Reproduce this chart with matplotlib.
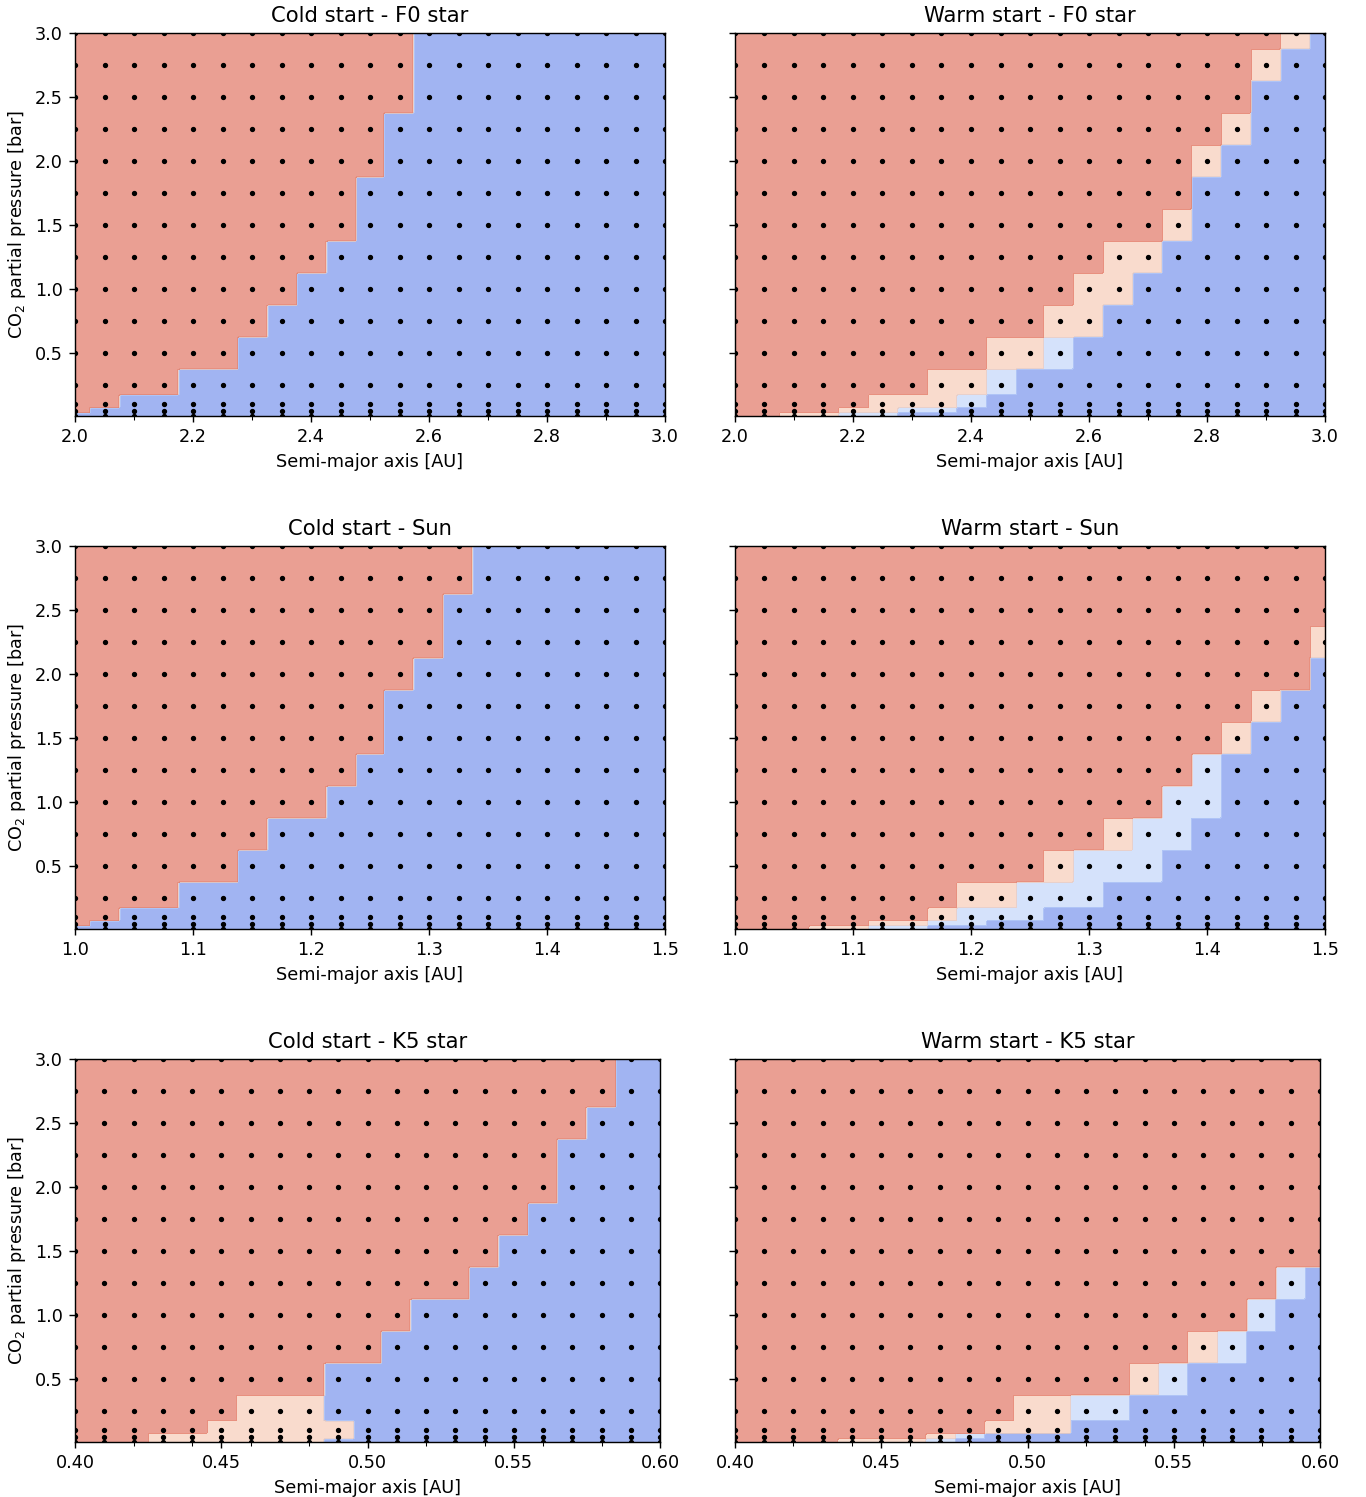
import numpy as np
import matplotlib
matplotlib.use('Agg')
import matplotlib.pyplot as plt
from matplotlib.ticker import MultipleLocator, FormatStrFormatter

# CO2 partial pressure grid [bar], top row first
pco2 = [3.0, 2.75, 2.5, 2.25, 2.0, 1.75, 1.5, 1.25, 1.0, 0.75, 0.5, 0.25, 0.1, 0.05, 0.01]

# semi-major axis grids [AU]
a_f0 = [2.0, 2.05, 2.1, 2.15, 2.2, 2.25, 2.3, 2.35, 2.4, 2.45, 2.5,
        2.55, 2.6, 2.65, 2.7, 2.75, 2.8, 2.85, 2.9, 2.95, 3.0]
a_sun = [1.0, 1.025, 1.05, 1.075, 1.1, 1.125, 1.15, 1.175, 1.2, 1.225, 1.25,
         1.275, 1.3, 1.325, 1.35, 1.375, 1.4, 1.425, 1.45, 1.475, 1.5]
a_k5 = [0.40, 0.41, 0.42, 0.43, 0.44, 0.45, 0.46, 0.47, 0.48, 0.49, 0.50,
        0.51, 0.52, 0.53, 0.54, 0.55, 0.56, 0.57, 0.58, 0.59, 0.60]

# final climate state per run (one string per pco2 row, one digit per a)
# 0 = snowball, 1 = partly glaciated, 2 = temperate, 3 = warm
cold_f0 = ["333333333333000000000",
           "333333333333000000000",
           "333333333333000000000",
           "333333333330000000000",
           "333333333330000000000",
           "333333333300000000000",
           "333333333300000000000",
           "333333333000000000000",
           "333333330000000000000",
           "333333300000000000000",
           "333333000000000000000",
           "333300000000000000000",
           "330000000000000000000",
           "300000000000000000000",
           "000000000000000000000"]
warm_f0 = ["333333333333333333320",
           "333333333333333333200",
           "333333333333333333000",
           "333333333333333332000",
           "333333333333333320000",
           "333333333333333300000",
           "333333333333333200000",
           "333333333333322000000",
           "333333333333220000000",
           "333333333332200000000",
           "333333333221000000000",
           "333333322100000000000",
           "333332221000000000000",
           "333322110000000000000",
           "332211000000000000000"]
cold_sun = ["333333333333330000000",
            "333333333333330000000",
            "333333333333300000000",
            "333333333333300000000",
            "333333333333000000000",
            "333333333330000000000",
            "333333333330000000000",
            "333333333300000000000",
            "333333333000000000000",
            "333333300000000000000",
            "333333000000000000000",
            "333300000000000000000",
            "330000000000000000000",
            "300000000000000000000",
            "000000000000000000000"]
warm_sun = ["333333333333333333333",
            "333333333333333333333",
            "333333333333333333333",
            "333333333333333333332",
            "333333333333333333330",
            "333333333333333333200",
            "333333333333333332000",
            "333333333333333310000",
            "333333333333333110000",
            "333333333333321100000",
            "333333333332111000000",
            "333333332211100000000",
            "333333321110000000000",
            "333332211000000000000",
            "333221100000000000000"]
cold_k5 = ["333333333333333333300",
           "333333333333333333300",
           "333333333333333333000",
           "333333333333333330000",
           "333333333333333330000",
           "333333333333333300000",
           "333333333333333000000",
           "333333333333330000000",
           "333333333333000000000",
           "333333333330000000000",
           "333333333000000000000",
           "333333222000000000000",
           "333332222200000000000",
           "333222222200000000000",
           "333222222000000000000"]
warm_k5 = ["333333333333333333333",
           "333333333333333333333",
           "333333333333333333333",
           "333333333333333333333",
           "333333333333333333333",
           "333333333333333333333",
           "333333333333333333333",
           "333333333333333333310",
           "333333333333333333100",
           "333333333333333321000",
           "333333333333332100000",
           "333333333322110000000",
           "333333333222000000000",
           "333333321000000000000",
           "333322210000000000000"]

# title, a grid, states, major / minor x tick step
panels = [
    ("Cold start - F0 star", a_f0, cold_f0, 0.2, 0.1),
    ("Warm start - F0 star", a_f0, warm_f0, 0.2, 0.1),
    ("Cold start - Sun", a_sun, cold_sun, 0.1, None),
    ("Warm start - Sun", a_sun, warm_sun, 0.1, None),
    ("Cold start - K5 star", a_k5, cold_k5, 0.05, 0.02),
    ("Warm start - K5 star", a_k5, warm_k5, 0.05, 0.02),
]


def nearest_grid(a, p, rows, n=300):
    # resample the run grid onto a fine mesh (nearest run) for contourf
    z = np.array([[int(c) for c in r] for r in rows])
    a = np.asarray(a)
    p = np.asarray(p)
    order = np.argsort(p)
    p, z = p[order], z[order]
    af = np.linspace(a.min(), a.max(), n)
    pf = np.linspace(p.min(), p.max(), n)
    ia = np.abs(af[:, None] - a[None, :]).argmin(axis=1)
    ip = np.abs(pf[:, None] - p[None, :]).argmin(axis=1)
    return af, pf, z[np.ix_(ip, ia)]


W, H = 1366, 1497
DPI = 127
fig = plt.figure(figsize=(W / DPI, H / DPI), dpi=DPI)

# axes boxes in pixels: left, top, width
boxes = [(75, 33, 590), (735, 33, 590),
         (75, 546, 590), (735, 546, 590),
         (75, 1059, 585), (735, 1059, 585)]
ax_h = 383

for k, (title, a, rows, major, minor) in enumerate(panels):
    left, top, width = boxes[k]
    ax = fig.add_axes([left / W, 1 - (top + ax_h) / H, width / W, ax_h / H])

    af, pf, zf = nearest_grid(a, pco2, rows)
    ax.contourf(af, pf, zf, levels=[-0.5, 0.5, 1.5, 2.5, 3.5],
                cmap='coolwarm', alpha=0.6)

    A, P = np.meshgrid(a, pco2)
    ax.plot(A.ravel(), P.ravel(), 'k.', markersize=4)

    ax.set_xlim(min(a), max(a))
    ax.set_ylim(min(pco2), max(pco2))
    ax.xaxis.set_major_locator(MultipleLocator(major))
    if major < 0.1:
        ax.xaxis.set_major_formatter(FormatStrFormatter('%.2f'))
    else:
        ax.xaxis.set_major_formatter(FormatStrFormatter('%.1f'))
    if minor is not None:
        ax.xaxis.set_minor_locator(MultipleLocator(minor))

    ax.set_title(title, fontsize=12)
    ax.set_xlabel('Semi-major axis [AU]')
    if k % 2 == 0:
        ax.set_ylabel(r'CO$_2$ partial pressure [bar]')
    else:
        ax.tick_params(labelleft=False)

fig.savefig('out.png', dpi=DPI)
